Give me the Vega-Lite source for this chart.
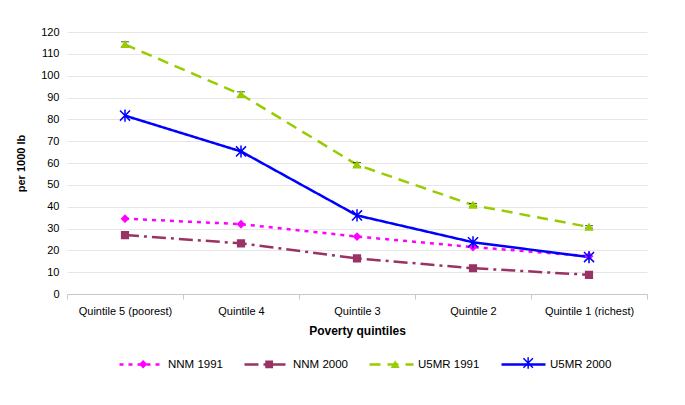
{
  "$schema": "https://vega.github.io/schema/vega-lite/v6.json",
  "width": 580,
  "height": 262,
  "autosize": "none",
  "padding": {"left": 67, "top": 32, "right": 38, "bottom": 111},
  "background": "white",
  "config": {
    "font": "Liberation Sans",
    "view": {"stroke": null},
    "axis": {"labelFont": "Liberation Sans", "titleFont": "Liberation Sans", "labelColor": "#000", "titleColor": "#000", "labelFontSize": 11, "titleFontSize": 11, "titleFontWeight": "bold"},
    "legend": {"labelFont": "Liberation Sans", "labelFontSize": 11.5, "labelColor": "#000"}
  },
  "data": {
    "values": [
      {"q": "Quintile 5 (poorest)", "series": "NNM 1991", "key": "n91", "v": 34.5},
      {"q": "Quintile 4", "series": "NNM 1991", "key": "n91", "v": 32},
      {"q": "Quintile 3", "series": "NNM 1991", "key": "n91", "v": 26.3},
      {"q": "Quintile 2", "series": "NNM 1991", "key": "n91", "v": 21.5},
      {"q": "Quintile 1 (richest)", "series": "NNM 1991", "key": "n91", "v": 17.3},
      {"q": "Quintile 5 (poorest)", "series": "NNM 2000", "key": "n00", "v": 27},
      {"q": "Quintile 4", "series": "NNM 2000", "key": "n00", "v": 23.2},
      {"q": "Quintile 3", "series": "NNM 2000", "key": "n00", "v": 16.3},
      {"q": "Quintile 2", "series": "NNM 2000", "key": "n00", "v": 11.8},
      {"q": "Quintile 1 (richest)", "series": "NNM 2000", "key": "n00", "v": 8.8},
      {"q": "Quintile 5 (poorest)", "series": "U5MR 1991", "key": "u91", "v": 114.3, "lo": 113.3, "hi": 115.5},
      {"q": "Quintile 4", "series": "U5MR 1991", "key": "u91", "v": 91.4, "lo": 90.2, "hi": 92.6},
      {"q": "Quintile 3", "series": "U5MR 1991", "key": "u91", "v": 59.2, "lo": 58.3, "hi": 60.2},
      {"q": "Quintile 2", "series": "U5MR 1991", "key": "u91", "v": 40.7, "lo": 40, "hi": 41.5},
      {"q": "Quintile 1 (richest)", "series": "U5MR 1991", "key": "u91", "v": 30.7, "lo": 30.2, "hi": 31.3},
      {"q": "Quintile 5 (poorest)", "series": "U5MR 2000", "key": "u00", "v": 81.7},
      {"q": "Quintile 4", "series": "U5MR 2000", "key": "u00", "v": 65.3},
      {"q": "Quintile 3", "series": "U5MR 2000", "key": "u00", "v": 36},
      {"q": "Quintile 2", "series": "U5MR 2000", "key": "u00", "v": 23.7},
      {"q": "Quintile 1 (richest)", "series": "U5MR 2000", "key": "u00", "v": 16.9}
    ]
  },
  "encoding": {
    "x": {
      "field": "q", "type": "nominal", "sort": null,
      "scale": {"domain": ["Quintile 5 (poorest)", "Quintile 4", "Quintile 3", "Quintile 2", "Quintile 1 (richest)"], "paddingInner": 0, "paddingOuter": 0},
      "axis": {"title": "Poverty quintiles", "titleFontSize": 12, "labelAngle": 0, "tickBand": "extent", "domainColor": "#c8c8c8", "tickColor": "#c8c8c8", "tickSize": 5, "labelPadding": 6, "titlePadding": 9, "grid": false}
    },
    "y": {"field": "v", "type": "quantitative", "scale": {"domain": [0, 120]},
      "axis": {"title": "per 1000 lb", "values": [0,10,20,30,40,50,60,70,80,90,100,110,120], "labelOverlap": false, "domain": false, "ticks": false, "gridColor": "#e6e6e6", "labelPadding": 8, "titlePadding": 14}}
  },
  "layer": [
    {
      "mark": {"type": "line", "strokeWidth": 2.5},
      "encoding": {
        "color": {"field": "series", "type": "nominal",
          "scale": {"domain": ["NNM 1991", "NNM 2000", "U5MR 1991", "U5MR 2000"], "range": ["#ff00ff", "#993366", "#99cc00", "#0000ff"]},
          "legend": {"title": null, "orient": "none", "direction": "horizontal", "legendX": 51, "legendY": 309, "symbolType": "stroke", "symbolSize": 1936, "symbolStrokeWidth": 2.5, "columnPadding": 16, "labelOffset": 3}},
        "strokeDash": {"field": "series", "type": "nominal",
          "scale": {"domain": ["NNM 1991", "NNM 2000", "U5MR 1991", "U5MR 2000"], "range": [[4, 5], [14, 5, 3, 5], [11, 7], [1, 0]]},
          "legend": {"title": null, "orient": "none", "direction": "horizontal", "legendX": 51, "legendY": 309, "symbolType": "stroke", "symbolSize": 1936, "symbolStrokeWidth": 2.5, "columnPadding": 16, "labelOffset": 3}}
      }
    },
    {
      "mark": {"type": "errorbar", "ticks": {"color": "#000", "size": 8}, "rule": {"color": "#000"}},
      "encoding": {
        "y": {"field": "lo", "type": "quantitative", "scale": {"domain": [0, 120]},
          "axis": {"title": "per 1000 lb", "values": [0,10,20,30,40,50,60,70,80,90,100,110,120], "labelOverlap": false, "domain": false, "ticks": false, "gridColor": "#e6e6e6", "labelPadding": 8, "titlePadding": 14}},
        "y2": {"field": "hi"}
      }
    },
    {
      "mark": {"type": "point", "filled": true, "opacity": 1, "size": 45, "strokeWidth": 1.5},
      "encoding": {
        "fill": {"field": "key", "type": "nominal", "scale": {"domain": ["n91", "n00", "u91", "u00"], "range": ["#ff00ff", "#993366", "#99cc00", "#0000ff"]},
          "legend": {"title": null, "orient": "none", "direction": "horizontal", "legendX": 70.4, "legendY": 325, "symbolSize": 40, "symbolStrokeWidth": 1.5, "columnPadding": 16, "labelOffset": 41.7, "labelColor": "transparent",
            "labelExpr": "datum.label == 'n91' ? 'NNM 1991' : datum.label == 'n00' ? 'NNM 2000' : datum.label == 'u91' ? 'U5MR 1991' : 'U5MR 2000'"}},
        "stroke": {"field": "key", "type": "nominal", "scale": {"domain": ["n91", "n00", "u91", "u00"], "range": ["#ff00ff", "#993366", "#99cc00", "#0000ff"]},
          "legend": {"title": null, "orient": "none", "direction": "horizontal", "legendX": 70.4, "legendY": 325, "symbolSize": 40, "symbolStrokeWidth": 1.5, "columnPadding": 16, "labelOffset": 41.7, "labelColor": "transparent",
            "labelExpr": "datum.label == 'n91' ? 'NNM 1991' : datum.label == 'n00' ? 'NNM 2000' : datum.label == 'u91' ? 'U5MR 1991' : 'U5MR 2000'"}},
        "shape": {"field": "key", "type": "nominal", "scale": {"domain": ["n91", "n00", "u91", "u00"], "range": ["diamond", "square", "triangle-up", "M-1.5,-1.5L1.5,1.5M-1.5,1.5L1.5,-1.5M0,-1.8L0,1.8"]},
          "legend": {"title": null, "orient": "none", "direction": "horizontal", "legendX": 70.4, "legendY": 325, "symbolSize": 40, "symbolStrokeWidth": 1.5, "columnPadding": 16, "labelOffset": 41.7, "labelColor": "transparent",
            "labelExpr": "datum.label == 'n91' ? 'NNM 1991' : datum.label == 'n00' ? 'NNM 2000' : datum.label == 'u91' ? 'U5MR 1991' : 'U5MR 2000'"}}
      }
    }
  ]
}
